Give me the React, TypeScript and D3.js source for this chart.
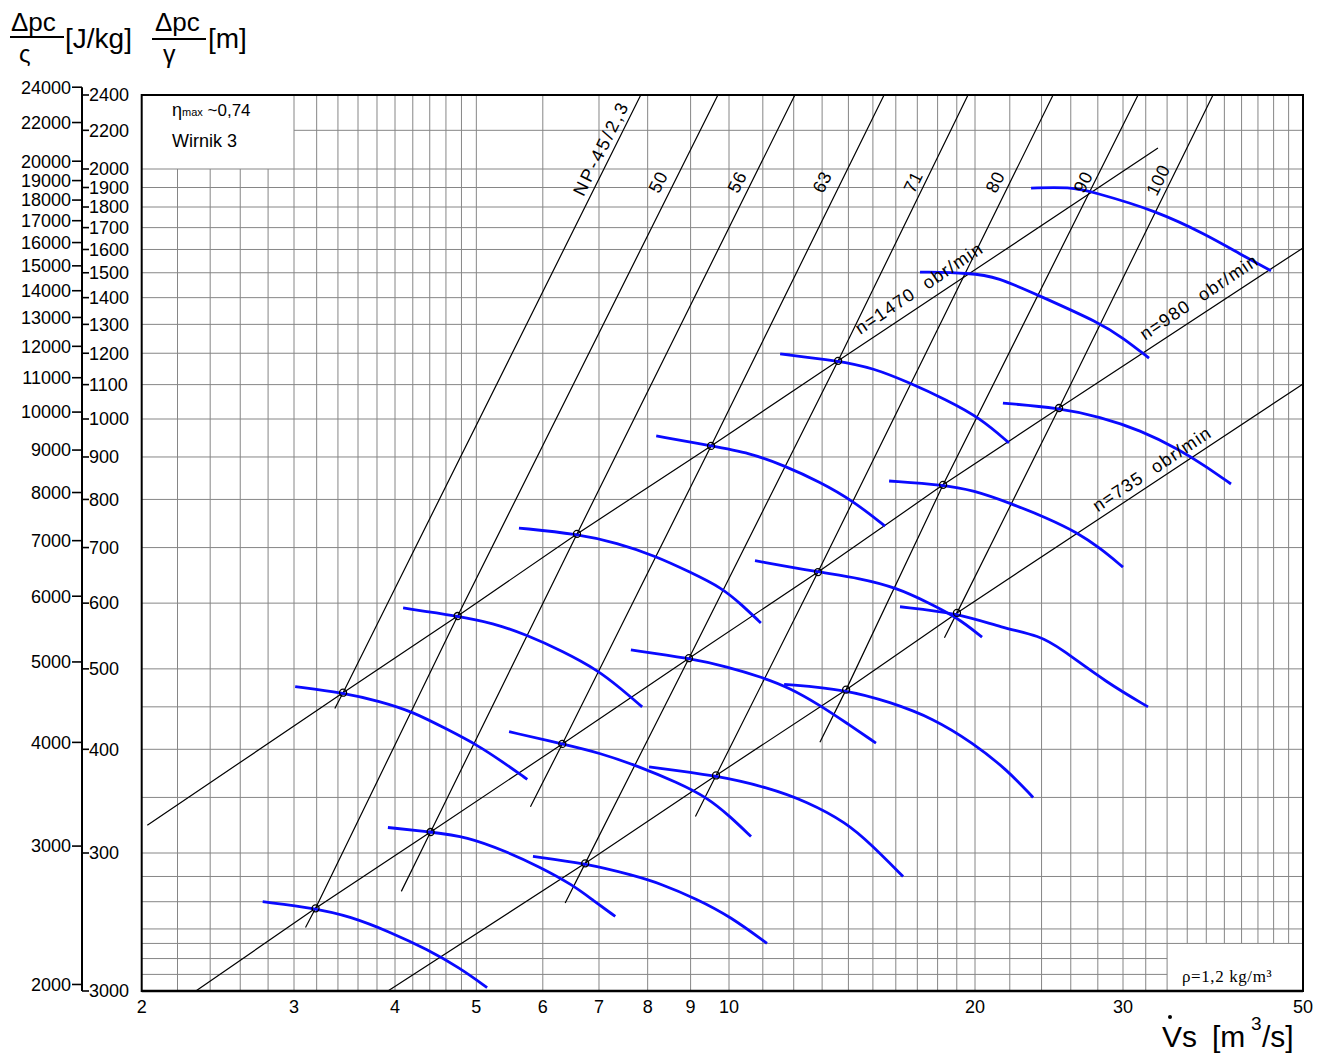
import React, { useEffect, useRef } from "react";
import * as d3 from "d3";

// the scanned grid is not quite uniform, so both log axes are piecewise
const qAnchors = [2, 3, 4, 10, 20, 30, 50];
const hAnchors = [200, 300, 1000, 2000, 2400];

const qTicks = [2, 3, 4, 5, 6, 7, 8, 9, 10, 20, 30, 50];
const qGrid = [
  2.2, 2.4, 2.6, 2.8, 3, 3.2, 3.4, 3.6, 3.8, 4, 4.2, 4.4, 4.6, 4.8, 5, 6, 7, 8, 9, 10,
  11, 12, 13, 14, 15, 16, 17, 18, 19, 20, 22, 24, 26, 28, 30, 32, 34, 36, 38, 40, 42, 44, 46, 48,
];
const hGrid = [
  210, 220, 230, 240, 260, 280, 300, 350, 400, 450, 500, 600, 700, 800, 900, 1000, 1100, 1200,
  1300, 1400, 1500, 1600, 1700, 1800, 1900, 2000, 2200,
];
const hTicks = [2400, 2200, 2000, 1900, 1800, 1700, 1600, 1500, 1400, 1300, 1200, 1100, 1000, 900, 800, 700, 600, 500, 400, 300, 200];
const hTickLabels = ["2400", "2200", "2000", "1900", "1800", "1700", "1600", "1500", "1400", "1300", "1200", "1100", "1000", "900", "800", "700", "600", "500", "400", "300", "3000"];
const eTicks = [24000, 22000, 20000, 19000, 18000, 17000, 16000, 15000, 14000, 13000, 12000, 11000, 10000, 9000, 8000, 7000, 6000, 5000, 4000, 3000, 2000];
const G = 9.81; // J/kg per metre of head

// speed lines
const speeds = [1470, 980, 735];
const speedStartQ = [2.03, 2.31, 3.92];
const speedStartH = [324, 200, 200];
const speedEndQ = [33.13, 50, 50];
const speedEndH = [2106, 1607, 1102];
const speedLabelQ = [17.08, 37.22, 32.57];
const speedLabelH = [1438, 1403, 871];

// fan size lines
const sizes = ["45", "50", "56", "63", "71", "80", "90", "100"];
const sizeLabels = ["NP-45/2,3", "50", "56", "63", "71", "80", "90", "100"];
const sizeLowQ = [3.37, 3.1, 4.07, 5.8, 6.38, 9.12, 12.92, 18.35];
const sizeLowH = [448, 241, 268, 341, 259, 332, 408, 545];
const sizeTopQ = [7.85, 9.7, 12.04, 15.48, 19.61, 24.77, 31.31, 38.73];
const sizeTopH = [2400, 2400, 2400, 2400, 2400, 2400, 2400, 2400];
const sizeLabelQ = [7.04, 8.23, 10.23, 13.0, 16.8, 21.13, 26.89, 33.13];
const sizeLabelH = [2106, 1929, 1929, 1929, 1929, 1929, 1929, 1940];

// operating points: size, speed, Q, H
const opPoints: [string, number, number, number][] = [
  ["45", 1470, 3.45, 468],
  ["50", 1470, 4.75, 579],
  ["56", 1470, 6.59, 727],
  ["63", 1470, 9.52, 928],
  ["71", 1470, 13.6, 1175],
  ["50", 980, 3.19, 255],
  ["56", 980, 4.41, 318],
  ["63", 980, 6.33, 406],
  ["71", 980, 8.96, 515],
  ["80", 980, 12.85, 654],
  ["90", 980, 18.28, 833],
  ["100", 980, 25.18, 1031],
  ["71", 735, 6.74, 291],
  ["80", 735, 9.65, 372],
  ["90", 735, 13.91, 472],
  ["100", 735, 19.01, 584],
];

// fan characteristics
const curves = [
  { size: "50", n: 980, q: [2.76, 3.19, 3.52, 3.94, 4.37, 4.78, 5.15], h: [260, 255, 249, 238, 226, 214, 202] },
  { size: "56", n: 980, q: [3.92, 4.41, 4.87, 5.44, 5.95, 6.52, 6.89, 7.32], h: [322, 318, 314, 301, 288, 273, 261, 249] },
  { size: "71", n: 735, q: [5.84, 6.74, 7.69, 8.3, 9.16, 10.03, 11.13], h: [297, 291, 281, 274, 262, 249, 230] },
  { size: "45", n: 1470, q: [3.01, 3.45, 3.83, 4.2, 4.61, 5.01, 5.38, 5.75], h: [476, 468, 457, 444, 423, 405, 386, 368] },
  { size: "63", n: 980, q: [5.47, 6.33, 7.02, 7.83, 8.67, 9.42, 10.03, 10.64], h: [420, 406, 396, 381, 365, 350, 332, 314] },
  { size: "80", n: 735, q: [8.03, 9.65, 11.13, 12.46, 13.94, 14.88, 16.33], h: [381, 372, 360, 346, 326, 308, 280] },
  { size: "50", n: 1470, q: [4.09, 4.75, 5.23, 5.75, 6.34, 6.98, 7.42, 7.88], h: [592, 579, 568, 549, 525, 498, 474, 450] },
  { size: "71", n: 980, q: [7.64, 8.96, 9.95, 11.01, 11.88, 12.92, 13.94, 15.13], h: [527, 515, 503, 488, 474, 452, 430, 407] },
  { size: "90", n: 735, q: [11.68, 13.91, 15.74, 17.77, 19.89, 21.83, 23.45], h: [479, 472, 456, 436, 407, 378, 350] },
  { size: "56", n: 1470, q: [5.62, 6.59, 7.36, 8.17, 8.99, 9.81, 10.37, 10.94], h: [739, 727, 709, 684, 654, 626, 597, 568] },
  { size: "80", n: 980, q: [10.76, 12.85, 14.47, 16.05, 17.47, 19.01, 20.39], h: [675, 654, 643, 626, 602, 577, 546] },
  { size: "100", n: 735, q: [16.19, 19.01, 21.59, 23.9, 25.24, 28.71, 32.21], h: [594, 584, 560, 548, 530, 481, 450] },
  { size: "63", n: 1470, q: [8.19, 9.52, 10.61, 11.64, 12.92, 14.18, 15.52], h: [954, 928, 910, 880, 840, 797, 743] },
  { size: "90", n: 980, q: [15.7, 18.28, 19.89, 22.01, 24.36, 26.52, 28.17, 30.0], h: [842, 833, 821, 792, 760, 729, 699, 663] },
  { size: "71", n: 1470, q: [11.55, 13.6, 15.01, 16.65, 18.48, 20.28, 21.95], h: [1198, 1175, 1152, 1105, 1054, 1003, 936] },
  { size: "100", n: 980, q: [21.59, 25.18, 28.17, 31.48, 35.27, 38.08, 40.76], h: [1045, 1031, 1006, 970, 918, 875, 835] },
  { size: "80", n: 1470, q: [17.13, 19.72, 21.24, 23.9, 28.17, 30.0, 32.3], h: [1503, 1499, 1483, 1406, 1305, 1252, 1184] },
  { size: "90", n: 1470, q: [23.32, 25.95, 27.63, 33.04, 38.08, 41.82, 45.66], h: [1897, 1903, 1877, 1780, 1665, 1580, 1508] },
];

const W = 1336;
const H = 1054;

const App: React.FC = () => {
  const ref = useRef<SVGSVGElement>(null);

  useEffect(() => {
    if (!ref.current) return;
    const svg = d3.select(ref.current);
    svg.selectAll("*").remove();

    const x = d3.scaleLog().domain(qAnchors).range([141.7, 294, 395, 729, 975, 1123, 1303]);
    const y = d3.scaleLog().domain(hAnchors).range([991, 853, 419, 169, 95]);
    const x0 = x(2), x1 = x(50), y0 = y(200), y1 = y(2400);

    // grid (blank boxes for the legend top-left and density note bottom-right)
    const grid = svg.append("g").attr("stroke", "#868686").attr("stroke-width", 1);
    grid.selectAll(".gv").data(qGrid).join("line").attr("class", "gv")
      .attr("x1", (d) => x(d)).attr("x2", (d) => x(d))
      .attr("y1", (d) => (d < 3 ? y(2000) : y1))
      .attr("y2", (d) => (d > 34 ? y(230) : y0));
    grid.selectAll(".gh").data(hGrid).join("line").attr("class", "gh")
      .attr("y1", (d) => y(d)).attr("y2", (d) => y(d))
      .attr("x1", (d) => (d > 2000 ? x(3) : x0))
      .attr("x2", (d) => (d < 230 ? x(34) : x1));

    svg.append("rect")
      .attr("x", x0).attr("y", y1).attr("width", x1 - x0).attr("height", y0 - y1)
      .attr("fill", "none").attr("stroke", "#000").attr("stroke-width", 2);
    svg.append("line").attr("x1", x0).attr("x2", x1).attr("y1", y0).attr("y2", y0)
      .attr("stroke", "#000").attr("stroke-width", 2.6);

    const line = d3.line<[number, number]>().x((d) => x(d[0])).y((d) => y(d[1]));

    // speed and size lines
    const black = svg.append("g").attr("fill", "none").attr("stroke", "#000").attr("stroke-width", 1.2);
    speeds.forEach((n, i) => {
      const pts: [number, number][] = [
        [speedStartQ[i], speedStartH[i]],
        ...opPoints.filter((p) => p[1] === n).map((p) => [p[2], p[3]] as [number, number]).sort((a, b) => a[0] - b[0]),
        [speedEndQ[i], speedEndH[i]],
      ];
      black.append("path").attr("d", line(pts));
    });
    sizes.forEach((s, i) => {
      const pts: [number, number][] = [
        [sizeLowQ[i], sizeLowH[i]],
        ...opPoints.filter((p) => p[0] === s).map((p) => [p[2], p[3]] as [number, number]).sort((a, b) => a[0] - b[0]),
        [sizeTopQ[i], sizeTopH[i]],
      ];
      black.append("path").attr("d", line(pts));
    });

    // fan curves
    const blueLine = d3.line<[number, number]>()
      .x((d) => x(d[0])).y((d) => y(d[1]))
      .curve(d3.curveBasis);
    svg.append("g").selectAll("path").data(curves).join("path")
      .attr("d", (c) => blueLine(c.q.map((q, k) => [q, c.h[k]] as [number, number])))
      .attr("fill", "none").attr("stroke", "#0a0aff").attr("stroke-width", 2.8)
      .attr("stroke-linecap", "butt");

    svg.append("g").selectAll("circle").data(opPoints).join("circle")
      .attr("cx", (d) => x(d[2])).attr("cy", (d) => y(d[3])).attr("r", 3.5)
      .attr("fill", "none").attr("stroke", "#000").attr("stroke-width", 1.3);

    // line labels
    const labels = svg.append("g").attr("font-size", 18).attr("fill", "#000").attr("text-anchor", "middle");
    sizeLabels.forEach((t, i) => {
      const a = (Math.atan2(y(sizeTopH[i]) - y(sizeLowH[i]), x(sizeTopQ[i]) - x(sizeLowQ[i])) * 180) / Math.PI;
      labels.append("text")
        .attr("transform", `translate(${x(sizeLabelQ[i])},${y(sizeLabelH[i])}) rotate(${a})`)
        .attr("dy", "0.35em")
        .attr("letter-spacing", i === 0 ? 2.5 : 0.5)
        .text(t);
    });
    speeds.forEach((n, i) => {
      const a = (Math.atan2(y(speedEndH[i]) - y(speedStartH[i]), x(speedEndQ[i]) - x(speedStartQ[i])) * 180) / Math.PI;
      labels.append("text")
        .attr("transform", `translate(${x(speedLabelQ[i])},${y(speedLabelH[i])}) rotate(${a})`)
        .attr("dy", "0.35em")
        .attr("letter-spacing", 1.3)
        .style("white-space", "pre")
        .text(`n=${n}  obr/min`);
    });

    // left axes
    const ax = svg.append("g").attr("font-size", 18).attr("fill", "#000");
    ax.append("line").attr("x1", 82).attr("x2", 82).attr("y1", y(eTicks[0] / G)).attr("y2", y0)
      .attr("stroke", "#000").attr("stroke-width", 2);
    ax.selectAll(".et").data(eTicks).join("line").attr("class", "et")
      .attr("x1", 72).attr("x2", 82).attr("y1", (d) => y(d / G)).attr("y2", (d) => y(d / G))
      .attr("stroke", "#000").attr("stroke-width", 1.6);
    ax.selectAll(".el").data(eTicks).join("text").attr("class", "el")
      .attr("x", 71).attr("y", (d) => y(d / G)).attr("dy", "0.35em").attr("text-anchor", "end")
      .text((d) => String(d));
    ax.selectAll(".ht").data(hTicks).join("line").attr("class", "ht")
      .attr("x1", 82).attr("x2", 89).attr("y1", (d) => y(d)).attr("y2", (d) => y(d))
      .attr("stroke", "#000").attr("stroke-width", 1.6);
    ax.selectAll(".hl").data(hTicks).join("text").attr("class", "hl")
      .attr("x", 89).attr("y", (d) => y(d)).attr("dy", "0.35em")
      .text((d, i) => hTickLabels[i]);

    // bottom axis
    ax.selectAll(".ql").data(qTicks).join("text").attr("class", "ql")
      .attr("x", (d) => x(d)).attr("y", 1013).attr("text-anchor", "middle")
      .text((d) => String(d));

    const tt = svg.append("g").attr("fill", "#000");
    tt.append("text").attr("x", 1162).attr("y", 1047).attr("font-size", 30).text("Vs");
    tt.append("circle").attr("cx", 1170).attr("cy", 1017).attr("r", 2);
    tt.append("text").attr("x", 1212).attr("y", 1047).attr("font-size", 30).text("[m");
    tt.append("text").attr("x", 1251).attr("y", 1030).attr("font-size", 19).text("3");
    tt.append("text").attr("x", 1262).attr("y", 1047).attr("font-size", 30).text("/s]");

    // top-left axis titles
    tt.append("text").attr("x", 11).attr("y", 31).attr("font-size", 26).text("Δpc");
    tt.append("line").attr("x1", 10).attr("x2", 64).attr("y1", 37).attr("y2", 37).attr("stroke", "#000").attr("stroke-width", 1.8);
    tt.append("text").attr("x", 19).attr("y", 62).attr("font-size", 24).text("ς");
    tt.append("text").attr("x", 65).attr("y", 48).attr("font-size", 28).text("[J/kg]");
    tt.append("text").attr("x", 155).attr("y", 31).attr("font-size", 26).text("Δpc");
    tt.append("line").attr("x1", 152).attr("x2", 206).attr("y1", 39).attr("y2", 39).attr("stroke", "#000").attr("stroke-width", 1.8);
    tt.append("text").attr("x", 163).attr("y", 63).attr("font-size", 25).text("γ");
    tt.append("text").attr("x", 208).attr("y", 48).attr("font-size", 28).text("[m]");

    // notes
    const eta = tt.append("text").attr("x", 172).attr("y", 116).attr("font-size", 17);
    eta.append("tspan").attr("font-size", 18).text("η");
    eta.append("tspan").attr("font-size", 11).text("max");
    eta.append("tspan").style("white-space", "pre").text(" ~0,74");
    tt.append("text").attr("x", 172).attr("y", 147).attr("font-size", 18).text("Wirnik 3");
    tt.append("text").attr("x", 1182).attr("y", 982).attr("font-size", 17)
      .attr("font-family", "'Liberation Serif', 'Times New Roman', serif")
      .attr("letter-spacing", 0.6)
      .text("ρ=1,2 kg/m³");
  }, []);

  return (
    <svg
      ref={ref}
      width={W}
      height={H}
      style={{ position: "absolute", left: 0, top: 0, display: "block", background: "#fff" }}
      fontFamily="'Liberation Sans', Arial, sans-serif"
    />
  );
};

export default App;
